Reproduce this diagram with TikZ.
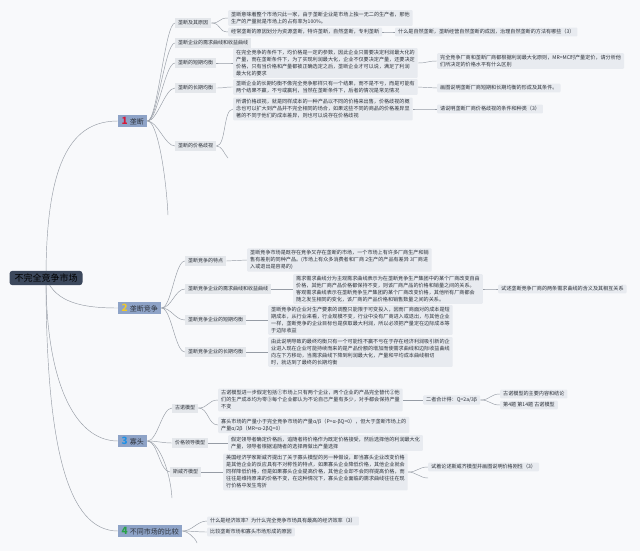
\documentclass[tikz,border=0pt]{standalone}
\usepackage{fontspec}
\setmainfont{Noto Sans CJK SC}
\usetikzlibrary{backgrounds}
\definecolor{bgcol}{RGB}{248,249,251}
\definecolor{rootcol}{RGB}{60,72,92}
\definecolor{topiccol}{RGB}{142,163,199}
\definecolor{subcol}{RGB}{228,231,235}
\definecolor{leafcol}{RGB}{232,235,240}
\definecolor{linecol}{RGB}{150,156,165}
\definecolor{txtcol}{RGB}{45,50,58}
\definecolor{numred}{RGB}{214,24,56}
\definecolor{numyellow}{RGB}{240,200,40}
\definecolor{numblue}{RGB}{30,144,230}
\definecolor{numgreen}{RGB}{40,160,70}
\tikzset{
  rootbox/.style={fill=rootcol,rounded corners=3pt,inner xsep=5pt,inner ysep=3pt,font=\fontsize{9}{9}\selectfont,text=black},
  topic/.style={fill=topiccol,anchor=west,inner xsep=3.5pt,inner ysep=2pt,font=\fontsize{7}{7}\selectfont,text=txtcol},
  subtopic/.style={fill=subcol,anchor=west,inner xsep=3pt,inner ysep=2.2pt,font=\fontsize{5}{5}\selectfont,text=txtcol},
  leaf/.style={fill=leafcol,anchor=west,rounded corners=1pt,align=left,inner xsep=3pt,inner ysep=2pt,font=\fontsize{5.1}{7}\selectfont,text=txtcol},
  link/.style={draw=linecol,line width=0.45pt}
}
\newcommand{\topicnum}[2]{{\color{#1}\bfseries\fontsize{10}{10}\selectfont #2}\hspace{2pt}}
\begin{document}
\begin{tikzpicture}[x=1pt,y=-1pt]
	\useasboundingbox (0,0) rectangle (640,551);
	%root
	\node[rootbox] (root) at (46,278) {不完全竞争市场};
	%topics
	\node[topic] (m1) at (118,121) {\topicnum{numred}{1}垄断};
	\node[topic] (m2) at (118,308) {\topicnum{numyellow}{2}垄断竞争};
	\node[topic] (m3) at (118,441) {\topicnum{numblue}{3}寡头};
	\node[topic] (m4) at (118,531) {\topicnum{numgreen}{4}不同市场的比较};
	% 1 monopoly
	\node[subtopic] (s11) at (175,23) {垄断及其原因};
	\node[subtopic] (s12) at (175,43) {垄断企业的需求曲线和收益曲线};
	\node[subtopic] (s13) at (175,63) {垄断的短期均衡};
	\node[subtopic] (s14) at (175,88) {垄断的长期均衡};
	\node[subtopic] (s15) at (175,146) {垄断的价格歧视};
	\node[leaf] (l111) at (228,18) {垄断意味着整个市场只此一家，由于垄断企业是市场上独一无二的生产者，那他\\生产的产量就是市场上的占有率为100\%。};
	\node[leaf] (l112) at (228,32) {经常垄断的原因划分为资源垄断，特许垄断，自然垄断，专利垄断};
	\node[leaf] (l1121) at (395,32) {什么是自然垄断，垄断经营自然垄断的成因，治理自然垄断的方法有哪些（3）};
	\node[leaf] (l131) at (233,63) {在完全竞争的条件下，均价格是一定的参数，因此企业只需要决定利润最大化的\\产量，而在垄断条件下，为了实现利润最大化，企业不仅要决定产量，还要决定\\价格，只有当价格和产量都被正确选定之后，垄断企业才可以说，满足了利润\\最大化的要求};
	\node[leaf] (l1311) at (437,61) {完全竞争厂商和垄断厂商都根据利润最大化原则，MR=MC时产量定价，请分析他\\们所决定的价格水平有什么区别};
	\node[leaf] (l141) at (233,87) {垄断企业的长期均衡不像完全竞争那样只有一个结果，而不是不亏，而是可能有\\两个结果不赢，不亏或赢利，当然在垄断条件下，后者的情况是常见情况};
	\node[leaf] (l1411) at (437,88) {画图说明垄断厂商短期和长期均衡的形成及其条件。};
	\node[leaf] (l151) at (233,109) {所谓价格歧视，就是同样成本的一种产品以不同的价格来出售，价格歧视的概\\念也可以扩大到产品并不完全相同的场合，如果这些不同的商品的价格差异显\\著的不同于他们的成本差异，则也可以说存在价格歧视};
	\node[leaf] (l1511) at (437,109) {请说明垄断厂商价格歧视的条件和种类（3）};
	% 2 monopolistic competition
	\node[subtopic] (s21) at (185,261) {垄断竞争的特点};
	\node[subtopic] (s22) at (185,289) {垄断竞争企业的需求曲线和收益曲线};
	\node[subtopic] (s23) at (185,320) {垄断竞争企业的短期均衡};
	\node[subtopic] (s24) at (185,352) {垄断竞争企业的长期均衡};
	\node[leaf] (l211) at (247,260) {垄断竞争市场是既存在竞争又存在垄断的市场，一个市场上有许多厂商生产和销\\售有差别的同种产品。(市场上有众多消费者和厂商 2生产的产品有差异 3厂商进\\入或退出是容易的)};
	\node[leaf] (l221) at (293,289) {需求需求曲线分为主观需求曲线表示为在垄断竞争生产集团中的某个厂商改变自由\\价格，其他厂商产品价格都保持不变，则该厂商产品的价格和销量之间的关系。\\客观需求曲线表示在垄断竞争生产集团的某个厂商改变价格，其他所有厂商都会\\随之发生相同的变化，该厂商的产品价格和销售数量之间的关系。};
	\node[leaf] (l2211) at (498,289) {试述垄断竞争厂商的两条需求曲线的含义及其相互关系};
	\node[leaf] (l231) at (268,320) {垄断竞争的企业对生产要素的调整只能限于可变投入，因而厂商面对的成本是短\\期成本，从行业来看，行业规模不变，行业中没有厂商进入或退出，与其他企业\\一样，垄断竞争的企业目标也是获取最大利润，所以必须把产量定在边际成本等\\于边际收益};
	\node[leaf] (l241) at (268,352) {由此说明导致的最终均衡只有一个可能性不赢不亏在于存在经济利润吸引新的企\\业进入现在企业可能持续而来的是产品份额的增加而使需求曲线和边际收益曲线\\向左下方移动，当需求曲线下降到利润最大化，产量和平均成本曲线相切\\时，就达到了最终的长期均衡};
	% 3 oligopoly
	\node[subtopic] (s31) at (172,408) {古诺模型};
	\node[subtopic] (s32) at (172,443) {价格领导模型};
	\node[subtopic] (s33) at (170,472) {斯威齐模型};
	\node[leaf] (l311) at (218,400) {古诺模型进一步假定包括①市场上只有两个企业，两个企业的产品完全替代②他\\们的生产成本均为零③每个企业都认为不论自己产量有多少，对手都会保持产量\\不变};
	\node[leaf] (l3111) at (423,400) {二者合计得：Q=2a/3β};
	\node[leaf] (l31111) at (500,394) {古诺模型的主要内容和结论};
	\node[leaf] (l31112) at (500,405) {第4题 第14题 古诺模型};
	\node[leaf] (l312) at (218,425) {寡头市场的产量小于完全竞争市场的产量α/β（P=α-βQ=0），但大于垄断市场上的\\产量α/2β（MR=α-2βQ=0）};
	\node[leaf] (l321) at (228,443) {假定领导者确定价格后，追随者将价格作为既定价格接受，然后选择他的利润最大化\\产量，领导者根据追随者的选择再做出产量选择};
	\node[leaf] (l331) at (223,472) {美国经济学家斯威齐提出了关于寡头模型的另一种假设，即当寡头企业改变价格\\是其他企业的反应具有不对称性的特点，如果寡头企业降低价格，其他企业就会\\同样降低价格，但是如果寡头企业提高价格，其他企业却不会同样提高价格，而\\往往是维持原来的价格不变，在这种情况下，寡头企业面临的需求曲线往往在现\\行价格中发生弯折};
	\node[leaf] (l3311) at (428,467) {试着论述斯威齐模型并画图说明价格刚性（3）};
	% 4 comparison
	\node[leaf] (l41) at (207,521) {什么是经济效率？为什么完全竞争市场具有最高的经济效率（3）};
	\node[leaf] (l42) at (207,532) {比较垄断市场和寡头市场形成的原因};
	%open branches
	\coordinate (e1) at (168,215);
	\coordinate (e2) at (228,158);
	\coordinate (e3) at (172,498);
	\coordinate (e4) at (428,478);
	\coordinate (e5) at (197,543);
	\begin{scope}[on background layer]
		\fill[bgcol] (0,0) rectangle (640,551);
		%root branches
		\draw[link] (root.center) .. controls +(0,-120) and +(-45,0) .. (m1.west);
		\draw[link] (root.center) .. controls +(10,25) and +(-35,0) .. (m2.west);
		\draw[link] (root.center) .. controls +(0,100) and +(-45,0) .. (m3.west);
		\draw[link] (root.center) .. controls +(0,170) and +(-50,0) .. (m4.west);
		%branches
		\foreach \a/\b in {m1/s11,m1/s12,m1/s13,m1/s14,m1/s15,m2/s21,m2/s22,m2/s23,m2/s24,m3/s31,m3/s32,m3/s33,m4/l41,m4/l42,s11/l111,s11/l112,l112/l1121,s13/l131,l131/l1311,s14/l141,l141/l1411,s15/l151,l151/l1511,s21/l211,s22/l221,l221/l2211,s23/l231,s24/l241,s31/l311,s31/l312,l311/l3111,l3111/l31111,l3111/l31112,s32/l321,s33/l331,l331/l3311}
			\draw[link] (\a.east) .. controls +(10,0) and +(-10,0) .. (\b.west);
		\draw[link] (m1.east) .. controls +(10,0) and +(-2,-40) .. (e1);
		\draw[link] (s15.east) .. controls +(6,0) and +(-4,-4) .. (e2);
		\draw[link] (m3.east) .. controls +(10,0) and +(-2,-30) .. (e3);
		\draw[link] (l331.east) .. controls +(8,0) and +(-8,0) .. (e4);
		\draw[link] (m4.east) .. controls +(4,0) and +(-2,-6) .. (e5);
	\end{scope}
\end{tikzpicture}
\end{document}
